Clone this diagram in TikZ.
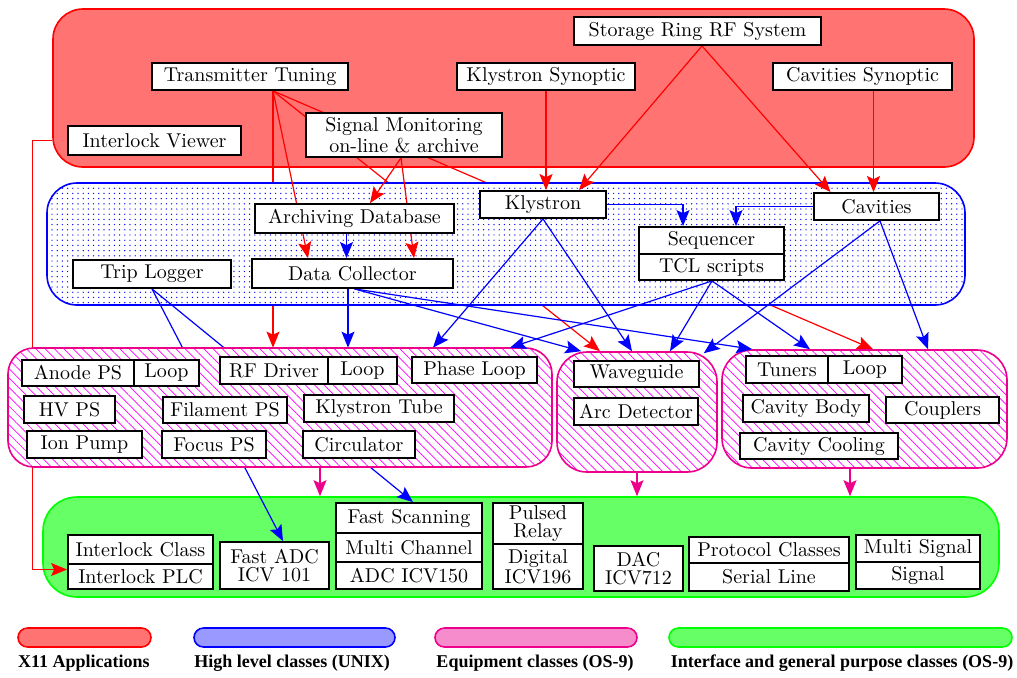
\documentclass[tikz,border=0pt]{standalone}
\usepackage{fontspec}
\newfontfamily\legendfont{Liberation Serif}
\usetikzlibrary{calc, arrows.meta, patterns.meta}

\pgfdeclarelayer{zoneA}
\pgfdeclarelayer{linesA}
\pgfdeclarelayer{zoneB}
\pgfdeclarelayer{linesB}
\pgfdeclarelayer{zoneC}
\pgfdeclarelayer{wires}
\pgfsetlayers{zoneA,linesA,zoneB,linesB,zoneC,wires,main}

\tikzset{
	box/.style={draw, line width=0.9pt, fill=white, inner sep=0pt, minimum height=13.5pt,
		align=center, font=\fontsize{10}{9}\selectfont},
	zone/.style={draw, rounded corners=15pt, line width=0.8pt, inner sep=0pt},
	xzone/.style={zone, draw=red, fill=red!55},
	hzone/.style={zone, draw=blue, preaction={fill=white},
		pattern={Dots[distance=2.6pt, radius=0.35pt]}, pattern color=blue},
	ezone/.style={zone, draw=magenta, preaction={fill=white},
		pattern={Lines[angle=-45, distance=3.3pt, line width=0.35pt]}, pattern color=magenta},
	izone/.style={zone, draw=green, fill=green!60, rounded corners=17pt},
	tip/.style={-{Stealth[length=8pt, width=6.5pt, inset=1.5pt]}},
	rwire/.style={draw=red, line width=0.6pt, tip},
	bwire/.style={draw=blue, line width=0.6pt, tip},
	mwire/.style={draw=magenta, line width=0.6pt, tip},
	pill/.style={rounded corners=4.75pt, line width=0.8pt, inner sep=0pt, minimum height=9.5pt},
	legend/.style={inner sep=0pt, font=\legendfont\bfseries\fontsize{9}{10}\selectfont}
}

\begin{document}
\begin{tikzpicture}[x=0.5pt, y=-0.5pt]
	\useasboundingbox (0,0) rectangle (1017,677);

	% class zones
	\begin{pgfonlayer}{zoneA}
		\draw
			(513.5,88) node[xzone, minimum width=460.5pt, minimum height=79pt] (x11) {}
			(521,547) node[izone, minimum width=478pt, minimum height=50pt] (ifc) {};
	\end{pgfonlayer}
	\begin{pgfonlayer}{zoneB}
		\draw
			(506,244) node[hzone, minimum width=459pt, minimum height=61pt] (hlc) {};
	\end{pgfonlayer}
	\begin{pgfonlayer}{zoneC}
		\draw
			(280,407.5) node[ezone, minimum width=272pt, minimum height=59.5pt, rounded corners=13pt] (eqL) {}
			(637,412) node[ezone, minimum width=80pt, minimum height=60pt] (eqM) {}
			(864.5,409) node[ezone, minimum width=142.5pt, minimum height=59pt] (eqR) {};
	\end{pgfonlayer}

	% X11 applications
	\draw
		(697.5,31) node[box, minimum width=123.5pt, minimum height=14pt] (srrf) {Storage Ring RF System}
		(250,76.5) node[box, minimum width=98pt] (tune) {Transmitter Tuning}
		(546,76.5) node[box, minimum width=89pt] (ksyn) {Klystron Synoptic}
		(862.5,76.5) node[box, minimum width=89.5pt] (csyn) {Cavities Synoptic}
		(154.5,140.5) node[box, minimum width=86.5pt, minimum height=14.5pt] (ilv) {Interlock Viewer}
		(404,135) node[box, minimum width=98pt, minimum height=22pt] (sig) {Signal Monitoring\\on-line \& archive};

	% high level classes
	\draw
		(354.5,218.5) node[box, minimum width=99.5pt, minimum height=14.5pt] (arch) {Archiving Database}
		(352.5,273.5) node[box, minimum width=100.5pt, minimum height=14.5pt] (dc) {Data Collector}
		(152,274) node[box, minimum width=79pt, minimum height=14pt] (trip) {Trip Logger}
		(543,204.5) node[box, minimum width=63pt] (kly) {Klystron}
		(876.5,206.5) node[box, minimum width=62.5pt] (cav) {Cavities}
		(711.5,240.5) node[box, minimum width=72.5pt] (seq) {Sequencer}
		(711.5,267) node[box, minimum width=72.5pt, minimum height=13pt] (tcl) {TCL scripts};

	% equipment classes
	\draw
		(78,373) node[box, minimum width=56pt, minimum height=13pt] (anode) {Anode PS}
		(166.5,373) node[box, minimum width=32.5pt, minimum height=13pt] (aloop) {Loop}
		(274,370.5) node[box, minimum width=54pt] (rfd) {RF Driver}
		(362.5,370.5) node[box, minimum width=34.5pt] (rloop) {Loop}
		(474.5,370) node[box, minimum width=62.5pt, minimum height=13pt] (phase) {Phase Loop}
		(69.5,409.5) node[box, minimum width=45.5pt] (hv) {HV PS}
		(225,410) node[box, minimum width=62pt, minimum height=13pt] (fil) {Filament PS}
		(379,408.5) node[box, minimum width=75pt] (tube) {Klystron Tube}
		(84.5,444.5) node[box, minimum width=57.5pt] (ion) {Ion Pump}
		(214,444.5) node[box, minimum width=52pt] (focus) {Focus PS}
		(359,444.5) node[box, minimum width=56pt] (circ) {Circulator}
		(636.5,374) node[box, minimum width=62.5pt, minimum height=13pt] (wave) {Waveguide}
		(636,411.5) node[box, minimum width=62pt] (arc) {Arc Detector}
		(787,369.5) node[box, minimum width=41pt] (tuners) {Tuners}
		(865,369.5) node[box, minimum width=37pt] (tloop) {Loop}
		(806,408.5) node[box, minimum width=63pt] (body) {Cavity Body}
		(942.5,410) node[box, minimum width=56.5pt, minimum height=13pt] (coup) {Couplers}
		(819,446) node[box, minimum width=79pt, minimum height=13pt] (cool) {Cavity Cooling};

	% interface classes
	\draw
		(140.5,549.5) node[box, minimum width=72.5pt, minimum height=14.5pt] (icls) {Interlock Class}
		(140.5,576.5) node[box, minimum width=72.5pt, minimum height=12.5pt] (iplc) {Interlock PLC}
		(274.5,565.5) node[box, minimum width=54.5pt, minimum height=23.5pt] (fadc) {Fast ADC\\ICV 101}
		(409,518) node[box, minimum width=73pt, minimum height=15pt] (fscan) {Fast Scanning}
		(409,547.5) node[box, minimum width=73pt, minimum height=14.5pt] (multi) {Multi Channel}
		(409,575.5) node[box, minimum width=73pt] (adc) {ADC ICV150}
		(538,523.5) node[box, minimum width=45pt, minimum height=20.5pt] (pulsed) {Pulsed\\Relay}
		(538,566.5) node[box, minimum width=45pt, minimum height=22.5pt] (digital) {Digital\\ICV196}
		(638.5,568.5) node[box, minimum width=44.5pt, minimum height=22.5pt] (dac) {DAC\\ICV712}
		(769,550) node[box, minimum width=80pt, minimum height=13pt] (proto) {Protocol Classes}
		(769,577) node[box, minimum width=80pt, minimum height=14pt] (serial) {Serial Line}
		(918,548.5) node[box, minimum width=62pt] (msig) {Multi Signal}
		(918,575.5) node[box, minimum width=62pt] (signal) {Signal};

	\coordinate (tt) at ($(tune.south)+(23,0)$);
	\coordinate (sm) at ($(sig.south)+(-3,0)$);
	\coordinate (rf) at ($(srrf.south)+(4.5,0)$);
	\coordinate (cs) at ($(csyn.south)+(11,0)$);
	\coordinate (ad) at ($(arch.south)+(-8,0)$);
	\coordinate (dcd) at ($(dc.south)+(-4.5,0)$);
	\coordinate (dcf) at ($(dc.south)+(2,0)$);
	\coordinate (tclf) at ($(tcl.south)+(0.5,0)$);
	\coordinate (cavf) at ($(cav.south)+(3.5,0)$);
	\coordinate (eqLd) at ($(eqL.south)+(40,0)$);
	\coordinate (eqRd) at ($(eqR.south)+(-14.5,0)$);

	% wires under the zones
	\begin{pgfonlayer}{linesA}
		\draw[rwire] (tt) -- (tt |- eqL.north);
		\draw[rwire] (tt) -- ($(eqM.north)+(-37,0)$);
		\draw[rwire] (tt) -- ($(eqR.north)+(8.5,0)$);
	\end{pgfonlayer}
	\begin{pgfonlayer}{linesB}
		\draw[bwire] (trip.south) -- ($(fadc.north)+(8.5,0)$);
		\draw[bwire] (trip.south) -- ($(fscan.north)+(4,0)$);
		\draw[rwire] ($(ilv.west)+(-15,0)$) -- ++(-20,0) |- ($(iplc.west)+(0,-7)$);
	\end{pgfonlayer}

	\begin{pgfonlayer}{wires}
		\draw[rwire] (tt) -- ($(dc.north)+(-44.5,0)$);
		\draw[rwire] (sm) -- ($(arch.north)+(15.5,0)$);
		\draw[rwire] (sm) -- ($(dc.north)+(61.5,0)$);
		\draw[rwire, line width=0.9pt] (ksyn.south) -- (ksyn.south |- kly.north);
		\draw[rwire] (rf) -- ($(kly.north)+(36,0)$);
		\draw[rwire] (rf) -- ($(cav.north)+(-46,0)$);
		\draw[rwire, line width=0.9pt] (cs) -- (cs |- cav.north);

		\draw[bwire] (ad) -- (ad |- dc.north);
		\draw[bwire] (dcd) -- (dcd |- eqL.north);
		\draw[bwire] (dcf) -- ($(eqM.north west)+(25,0)$);
		\draw[bwire] (dcf) -- ($(eqR.north west)+(31,0)$);
		\draw[bwire] (kly.south) -- ($(eqL.north)+(153,0)$);
		\draw[bwire] (kly.south) -- ($(eqM.north)+(-5,0)$);
		\draw[bwire] (kly.east) -| ($(seq.north)+(-28.5,0)$);
		\draw[bwire] (cav.west) -| ($(seq.north)+(24.5,0)$);
		\draw[bwire] (tclf) -- ($(eqL.north)+(230,0)$);
		\draw[bwire] (tclf) -- ($(eqM.north)+(33,0)$);
		\draw[bwire] (tclf) -- ($(eqR.north)+(-54.5,0)$);
		\draw[bwire] (cavf) -- ($(eqM.north east)+(-14,2)$);
		\draw[bwire] (cavf) -- ($(eqR.north)+(63.5,0)$);

		\draw[mwire] (eqLd) -- (eqLd |- ifc.north);
		\draw[mwire] (eqM.south) -- (eqM.south |- ifc.north);
		\draw[mwire] (eqRd) -- (eqRd |- ifc.north);
	\end{pgfonlayer}

	% legend
	\draw
		(84.5,637.5) node[pill, draw=red, fill=red!55, minimum width=66.5pt] (lx11) {}
		(294.5,637.5) node[pill, draw=blue, fill=blue!40, minimum width=100.5pt] (lhlc) {}
		(536,637.5) node[pill, draw=magenta, fill=magenta!45, minimum width=101pt] (leq) {}
		(840.5,637.5) node[pill, draw=green, fill=green!60, minimum width=171.5pt] (lifc) {}
		(84,663) node[legend] (tx11) {X11 Applications}
		(292,663) node[legend] (thlc) {High level classes (UNIX)}
		(535,663) node[legend] (teq) {Equipment classes (OS-9)}
		(842,663) node[legend] (tifc) {Interface and general purpose classes (OS-9)};
\end{tikzpicture}
\end{document}
